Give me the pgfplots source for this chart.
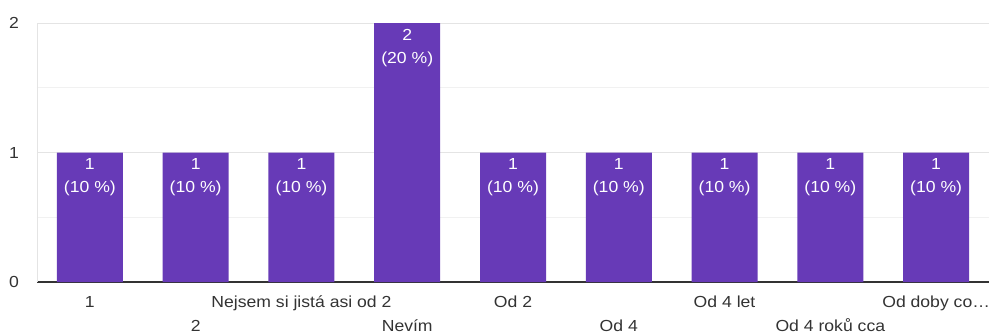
\documentclass[border=0pt]{standalone}
\usepackage{fontspec}
\setmainfont{Liberation Sans}[FakeStretch=1.1]
\usepackage{pgfplots}
\pgfplotsset{compat=1.18}
\definecolor{barfill}{HTML}{673AB7}
\definecolor{txt}{HTML}{333333}
\definecolor{gridmajor}{HTML}{E4E4E4}
\definecolor{gridminor}{HTML}{F1F1F1}
\begin{document}
\fontsize{16pt}{19pt}\selectfont
\begin{tikzpicture}
\useasboundingbox (-37pt,-51pt) rectangle (953pt,282pt);
\begin{axis}[
  at={(0pt,0pt)}, anchor=south west,
  scale only axis, width=952pt, height=259pt,
  xmin=-0.5, xmax=8.5, ymin=0, ymax=2,
  ybar, bar width=66pt,
  axis x line*=bottom, axis y line*=left,
  x axis line style={draw=txt, line width=1.3pt, -},
  y axis line style={draw=gridmajor, line width=0.8pt, -},
  major tick length=0pt, minor tick length=0pt,
  tick style={draw=none},
  /pgf/number format/assume math mode=true,
  ytick={0,1,2}, minor y tick num=1,
  ymajorgrids, yminorgrids,
  major grid style={draw=gridmajor, line width=0.8pt},
  minor grid style={draw=gridminor, line width=0.8pt},
  yticklabel style={anchor=east, inner sep=0pt, xshift=-18pt, text=txt,
    font=\fontsize{16pt}{19pt}\selectfont},
  xtick={0,2,4,6,8},
  xticklabels={1,Nejsem si jistá asi od 2,Od 2,Od 4 let,Od doby co…},
  xticklabel style={anchor=base, inner sep=0pt, yshift=-25pt, text=txt,
    font=\fontsize{16pt}{19pt}\selectfont},
  extra x ticks={1,3,5,7},
  extra x tick labels={2,Nevím,Od 4,Od 4 roků cca},
  extra x tick style={xticklabel style={yshift=-24pt}},
  visualization depends on={rawy \as \count},
  nodes near coords={\pgfmathprintnumber{\count}\\(\pgfmathparse{\count*10}\pgfmathprintnumber{\pgfmathresult}~\%)},
  every node near coord/.append style={anchor=north, inner sep=0pt, yshift=-6pt,
    align=center, text=white, font=\fontsize{16pt}{23pt}\selectfont},
]
\addplot[fill=barfill, draw=none] coordinates {
  (0,1) (1,1) (2,1) (3,2) (4,1) (5,1) (6,1) (7,1) (8,1)
};
\end{axis}
\end{tikzpicture}
\end{document}
